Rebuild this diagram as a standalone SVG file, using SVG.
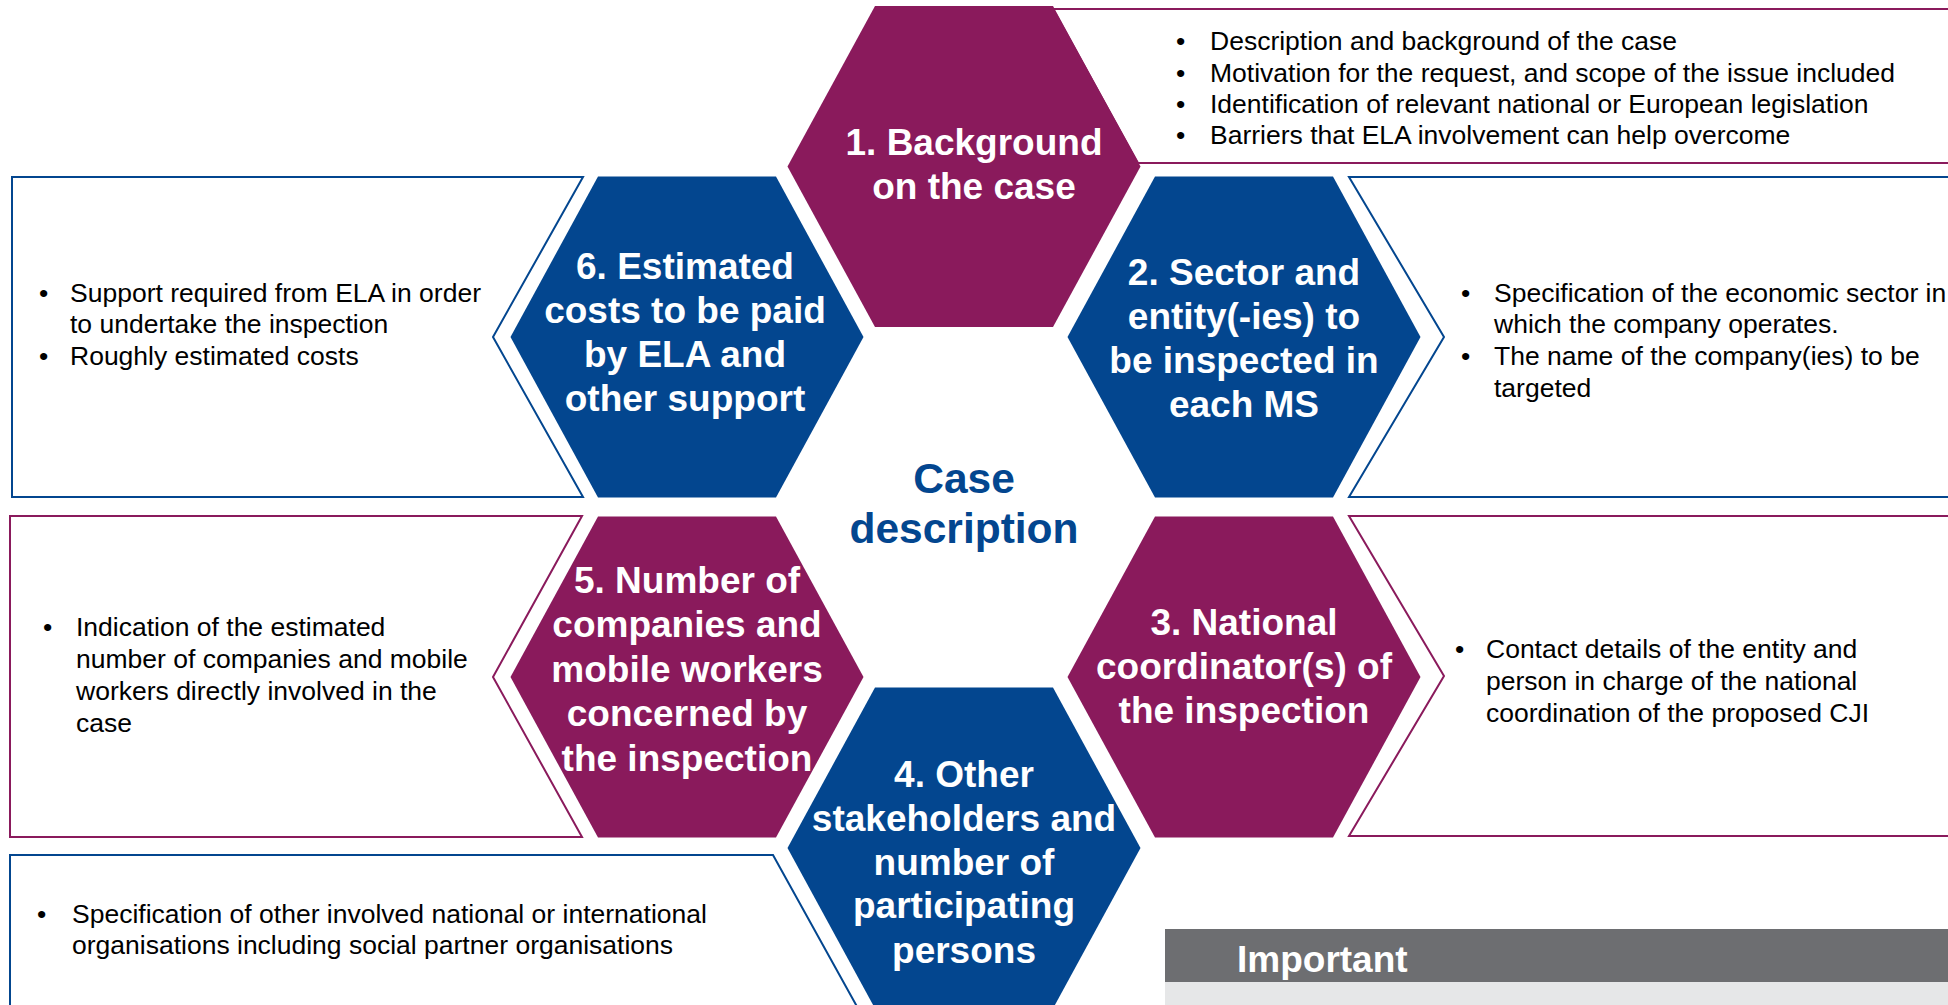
<svg xmlns="http://www.w3.org/2000/svg" width="1948" height="1005" viewBox="0 0 1948 1005">
<style>
.bg{fill:#ffffff}
.boxP{fill:#ffffff;stroke:#8A1A5C;stroke-width:2}
.boxB{fill:#ffffff;stroke:#03468F;stroke-width:2}
.hexP{fill:#8A1A5C}
.hexB{fill:#03468F}
.ht{font-family:"Liberation Sans",Arial,sans-serif;font-weight:bold;font-size:37px;fill:#ffffff;text-anchor:middle}
.ct{font-family:"Liberation Sans",Arial,sans-serif;font-size:26.5px;fill:#000000}
.title{font-family:"Liberation Sans",Arial,sans-serif;font-weight:bold;font-size:42.5px;fill:#03468F;text-anchor:middle}
.imp{font-family:"Liberation Sans",Arial,sans-serif;font-weight:bold;font-size:37px;fill:#ffffff}
</style>
<rect class="bg" x="0" y="0" width="1948" height="1005"/>

<g id="callouts">
  <g id="box1">
    <polygon class="boxP" points="1053,9 1960,9 1960,163 1138,163"/>
    <text class="ct"><tspan x="1176" y="50">•</tspan><tspan x="1210" y="50">Description and background of the case</tspan></text>
    <text class="ct"><tspan x="1176" y="81.5">•</tspan><tspan x="1210" y="81.5">Motivation for the request, and scope of the issue included</tspan></text>
    <text class="ct"><tspan x="1176" y="113">•</tspan><tspan x="1210" y="113">Identification of relevant national or European legislation</tspan></text>
    <text class="ct"><tspan x="1176" y="144">•</tspan><tspan x="1210" y="144">Barriers that ELA involvement can help overcome</tspan></text>
  </g>
  <g id="box2">
    <polygon class="boxB" points="1349,177 1960,177 1960,497 1349,497 1444,337"/>
    <text class="ct"><tspan x="1461" y="302">•</tspan><tspan x="1494" y="302">Specification of the economic sector in</tspan></text>
    <text class="ct" x="1494" y="333">which the company operates.</text>
    <text class="ct"><tspan x="1461" y="365">•</tspan><tspan x="1494" y="365">The name of the company(ies) to be</tspan></text>
    <text class="ct" x="1494" y="397">targeted</text>
  </g>
  <g id="box3">
    <polygon class="boxP" points="1349,516 1960,516 1960,836 1349,836 1444,676"/>
    <text class="ct"><tspan x="1455" y="658">•</tspan><tspan x="1486" y="658">Contact details of the entity and</tspan></text>
    <text class="ct" x="1486" y="690">person in charge of the national</text>
    <text class="ct" x="1486" y="722">coordination of the proposed CJI</text>
  </g>
  <g id="box4">
    <polygon class="boxB" points="10,855 773,855 860,1012 10,1012"/>
    <text class="ct"><tspan x="37" y="923">•</tspan><tspan x="72" y="923">Specification of other involved national or international</tspan></text>
    <text class="ct" x="72" y="954">organisations including social partner organisations</text>
  </g>
  <g id="box5">
    <polygon class="boxP" points="10,516 582,516 493,677 582,837 10,837"/>
    <text class="ct"><tspan x="43" y="636">•</tspan><tspan x="76" y="636">Indication of the estimated</tspan></text>
    <text class="ct" x="76" y="668">number of companies and mobile</text>
    <text class="ct" x="76" y="700">workers directly involved in the</text>
    <text class="ct" x="76" y="732">case</text>
  </g>
  <g id="box6">
    <polygon class="boxB" points="12,177 583,177 493,337 583,497 12,497"/>
    <text class="ct"><tspan x="39" y="302">•</tspan><tspan x="70" y="302">Support required from ELA in order</tspan></text>
    <text class="ct" x="70" y="333">to undertake the inspection</text>
    <text class="ct"><tspan x="39" y="365">•</tspan><tspan x="70" y="365">Roughly estimated costs</tspan></text>
  </g>
</g>

<g id="hex1">
  <polygon class="hexP" points="875,6 1053,6 1140.5,166.5 1053,327 875,327 787.5,166.5"/>
  <text class="ht" x="974" y="155">1. Background</text>
  <text class="ht" x="974" y="199">on the case</text>
</g>
<g id="hex2">
  <polygon class="hexB" points="1155,176.5 1333,176.5 1420.5,337 1333,497.5 1155,497.5 1067.5,337"/>
  <text class="ht" x="1244" y="285">2. Sector and</text>
  <text class="ht" x="1244" y="329">entity(-ies) to</text>
  <text class="ht" x="1244" y="373">be inspected in</text>
  <text class="ht" x="1244" y="417">each MS</text>
</g>
<g id="hex3">
  <polygon class="hexP" points="1155,516.5 1333,516.5 1420.5,677 1333,837.5 1155,837.5 1067.5,677"/>
  <text class="ht" x="1244" y="635">3. National</text>
  <text class="ht" x="1244" y="679">coordinator(s) of</text>
  <text class="ht" x="1244" y="723">the inspection</text>
</g>
<g id="hex5">
  <polygon class="hexP" points="598,516.5 776,516.5 863.5,677 776,837.5 598,837.5 510.5,677"/>
  <text class="ht" x="687" y="593">5. Number of</text>
  <text class="ht" x="687" y="637">companies and</text>
  <text class="ht" x="687" y="682">mobile workers</text>
  <text class="ht" x="687" y="726">concerned by</text>
  <text class="ht" x="687" y="771">the inspection</text>
</g>
<g id="hex6">
  <polygon class="hexB" points="598,176.5 776,176.5 863.5,337 776,497.5 598,497.5 510.5,337"/>
  <text class="ht" x="685" y="279">6. Estimated</text>
  <text class="ht" x="685" y="323">costs to be paid</text>
  <text class="ht" x="685" y="367">by ELA and</text>
  <text class="ht" x="685" y="411">other support</text>
</g>
<g id="hex4">
  <polygon class="hexB" points="875,687.5 1053,687.5 1140.5,848 1053,1008.5 875,1008.5 787.5,848"/>
  <text class="ht" x="964" y="787">4. Other</text>
  <text class="ht" x="964" y="831">stakeholders and</text>
  <text class="ht" x="964" y="875">number of</text>
  <text class="ht" x="964" y="918">participating</text>
  <text class="ht" x="964" y="963">persons</text>
</g>

<g id="center">
  <text class="title" x="964" y="493">Case</text>
  <text class="title" x="964" y="543">description</text>
</g>

<g id="important">
  <rect x="1165" y="929" width="790" height="53" fill="#6D6E71"/>
  <rect x="1165" y="982" width="790" height="30" fill="#E6E7E8"/>
  <text class="imp" x="1237" y="972">Important</text>
</g>

<g id="connectors"></g>
</svg>
